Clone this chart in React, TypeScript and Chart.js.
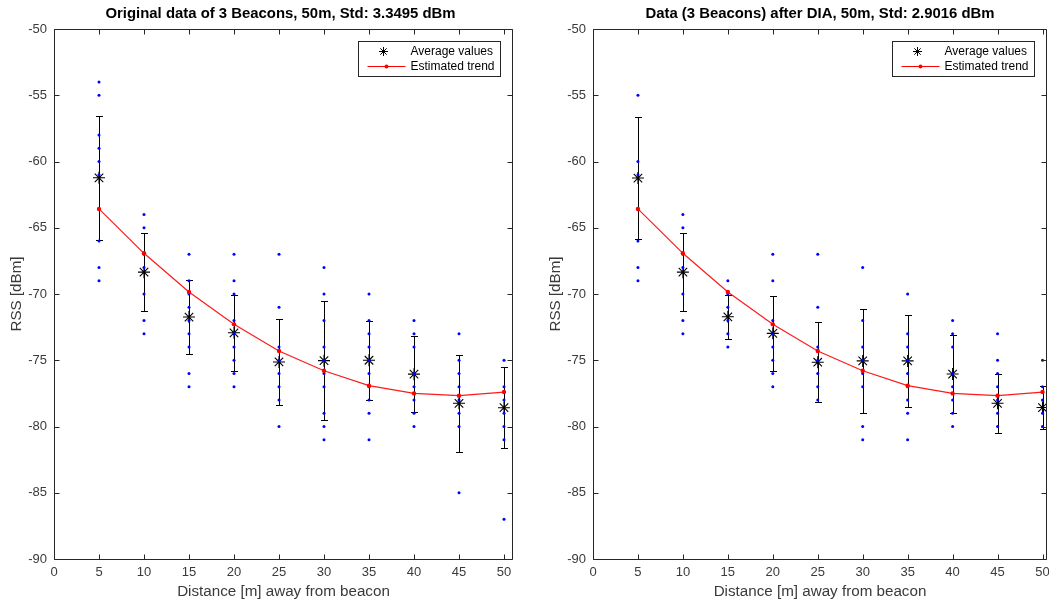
import React, { useEffect, useRef } from "react";
import { Chart, registerables } from "chart.js";

Chart.register(...registerables);

// Measurement distances (m) and axis ticks
const distances = [5, 10, 15, 20, 25, 30, 35, 40, 45, 50];
const xTickValues = [0, 5, 10, 15, 20, 25, 30, 35, 40, 45, 50];
const yTickValues = [-90, -85, -80, -75, -70, -65, -60, -55, -50];

// Fitted path-loss trend (dBm)
const trendRss = [-63.58, -66.93, -69.85, -72.29, -74.3, -75.79, -76.92, -77.5, -77.67, -77.4];

// Original data: mean, standard deviation and raw samples per distance
const originalMeans = [-61.23, -68.35, -71.74, -72.93, -75.13, -75.03, -75.0, -76.05, -78.25, -78.58];
const originalStd = [4.69, 2.92, 2.82, 2.88, 3.23, 4.47, 3.0, 2.88, 3.65, 3.06];
const originalSamples = [
  [-54, -55, -58, -59, -60, -61, -66, -68, -69],
  [-64, -65, -67, -68, -70, -72, -73],
  [-67, -69, -70, -71, -72, -73, -74, -76, -77],
  [-67, -69, -70, -72, -73, -74, -75, -76, -77],
  [-67, -71, -74, -75, -76, -77, -78, -80],
  [-68, -70, -72, -74, -75, -76, -77, -79, -80, -81],
  [-70, -72, -73, -74, -75, -76, -77, -78, -79, -81],
  [-72, -73, -74, -76, -77, -78, -79, -80],
  [-73, -75, -76, -77, -78, -79, -80, -85],
  [-75, -77, -78, -79, -80, -81, -87],
];

// Data after DIA filtering
const diaMeans = [-61.25, -68.35, -71.72, -72.97, -75.15, -75.05, -75.05, -76.04, -78.25, -78.57];
const diaStd = [4.58, 2.92, 1.66, 2.84, 3.03, 3.95, 3.5, 2.97, 2.22, 1.6];
const diaSamples = [
  [-55, -60, -61, -66, -68, -69],
  [-64, -65, -67, -68, -70, -72, -73],
  [-69, -70, -71, -72, -73, -74],
  [-67, -69, -72, -73, -74, -75, -76, -77],
  [-67, -71, -74, -75, -76, -77, -78],
  [-68, -72, -74, -75, -76, -77, -80, -81],
  [-70, -73, -74, -75, -76, -77, -78, -79, -81],
  [-72, -73, -74, -76, -77, -78, -79, -80],
  [-73, -75, -76, -77, -78, -79, -80],
  [-75, -77, -78, -79, -80],
];

const originalTitle = "Original data of 3 Beacons, 50m, Std: 3.3495 dBm";
const diaTitle = "Data (3 Beacons) after DIA, 50m, Std: 2.9016 dBm";
const xAxisLabel = "Distance [m] away from beacon";
const yAxisLabel = "RSS [dBm]";
const legendLabels = ["Average values", "Estimated trend"];

const FONT = "'Liberation Sans', Arial, Helvetica, sans-serif";
const AXIS_COLOR = "#262626";
const LABEL_COLOR = "#3a3a3a";

// Vertical mean ± std bars with caps
const errorBarPlugin = {
  id: "errorBars",
  beforeDatasetsDraw(chart: any, _args: any, opts: any) {
    const { ctx } = chart;
    const xs = chart.scales.x;
    const ys = chart.scales.y;
    ctx.save();
    ctx.strokeStyle = "#000";
    ctx.lineWidth = 1;
    opts.means.forEach((m: number, i: number) => {
      const x = Math.round(xs.getPixelForValue(distances[i])) + 0.5;
      const yTop = Math.round(ys.getPixelForValue(m + opts.std[i])) + 0.5;
      const yBot = Math.round(ys.getPixelForValue(m - opts.std[i])) + 0.5;
      ctx.beginPath();
      ctx.moveTo(x, yTop);
      ctx.lineTo(x, yBot);
      ctx.moveTo(x - 3.5, yTop);
      ctx.lineTo(x + 3.5, yTop);
      ctx.moveTo(x - 3.5, yBot);
      ctx.lineTo(x + 3.5, yBot);
      ctx.stroke();
    });
    ctx.restore();
  },
};

// Boxed axes with inward ticks on all four sides
const axesBoxPlugin = {
  id: "axesBox",
  afterDatasetsDraw(chart: any) {
    const { ctx, chartArea } = chart;
    const { left, right, top, bottom } = chartArea;
    const xs = chart.scales.x;
    const ys = chart.scales.y;
    const L = Math.round(left) + 0.5;
    const R = Math.round(right) - 0.5;
    const T = Math.round(top) + 0.5;
    const B = Math.round(bottom) + 0.5;
    const len = 5;
    ctx.save();
    ctx.strokeStyle = AXIS_COLOR;
    ctx.lineWidth = 1;
    ctx.beginPath();
    ctx.rect(L, T, R - L, B - T);
    xTickValues.forEach((v) => {
      const px = Math.round(xs.getPixelForValue(v)) + 0.5;
      ctx.moveTo(px, B);
      ctx.lineTo(px, B - len);
      ctx.moveTo(px, T);
      ctx.lineTo(px, T + len);
    });
    yTickValues.forEach((v) => {
      const py = Math.round(ys.getPixelForValue(v)) + 0.5;
      ctx.moveTo(L, py);
      ctx.lineTo(L + len, py);
      ctx.moveTo(R, py);
      ctx.lineTo(R - len, py);
    });
    ctx.stroke();
    ctx.restore();
  },
};

// Bold panel heading above the plot area
const panelTitlePlugin = {
  id: "panelTitle",
  afterDraw(chart: any, _args: any, opts: any) {
    const { ctx, chartArea } = chart;
    ctx.save();
    ctx.fillStyle = "#000";
    ctx.font = `bold 14.9px ${FONT}`;
    ctx.textAlign = "center";
    ctx.textBaseline = "middle";
    ctx.fillText(opts.text, (chartArea.left + chartArea.right) / 2 + (opts.shift || 0), 14);
    ctx.restore();
  },
};

// Legend box in the upper-right corner
const boxLegendPlugin = {
  id: "boxLegend",
  afterDraw(chart: any) {
    const { ctx, chartArea } = chart;
    const w = 142;
    const h = 35;
    const bx = Math.round(chartArea.right - 13 - w) + 0.5;
    const by = Math.round(chartArea.top + 12) + 0.5;
    ctx.save();
    ctx.fillStyle = "#fff";
    ctx.fillRect(bx, by, w, h);
    ctx.strokeStyle = AXIS_COLOR;
    ctx.lineWidth = 1;
    ctx.strokeRect(bx, by, w, h);

    // star marker
    const sx = bx + 25;
    const sy = by + 10;
    const r = 4.5;
    const d = r * Math.SQRT1_2;
    ctx.strokeStyle = "#000";
    ctx.beginPath();
    ctx.moveTo(sx - r, sy);
    ctx.lineTo(sx + r, sy);
    ctx.moveTo(sx, sy - r);
    ctx.lineTo(sx, sy + r);
    ctx.moveTo(sx - d, sy - d);
    ctx.lineTo(sx + d, sy + d);
    ctx.moveTo(sx - d, sy + d);
    ctx.lineTo(sx + d, sy - d);
    ctx.stroke();

    // trend line sample
    const ly = by + 25;
    ctx.strokeStyle = "#ff0000";
    ctx.beginPath();
    ctx.moveTo(bx + 9, ly);
    ctx.lineTo(bx + 47, ly);
    ctx.stroke();
    ctx.fillStyle = "#ff0000";
    ctx.beginPath();
    ctx.arc(bx + 28, ly, 2, 0, Math.PI * 2);
    ctx.fill();

    ctx.fillStyle = "#000";
    ctx.font = `12px ${FONT}`;
    ctx.textAlign = "left";
    ctx.textBaseline = "middle";
    ctx.fillText(legendLabels[0], bx + 52, sy);
    ctx.fillText(legendLabels[1], bx + 52, ly);
    ctx.restore();
  },
};

type PanelProps = {
  title: string;
  titleShift: number;
  means: number[];
  std: number[];
  samples: number[][];
  xMax: number;
  width: number;
  padLeft: number;
  padRight: number;
  left: number;
};

function BeaconPanel(props: PanelProps) {
  const ref = useRef<HTMLCanvasElement | null>(null);

  useEffect(() => {
    if (!ref.current) return;
    const samplePoints = distances.flatMap((d, i) => props.samples[i].map((v) => ({ x: d, y: v })));
    const chart = new Chart(ref.current, {
      type: "scatter",
      data: {
        datasets: [
          {
            label: legendLabels[1],
            data: distances.map((d, i) => ({ x: d, y: trendRss[i] })),
            showLine: true,
            borderColor: "#ff1a1a",
            borderWidth: 1.2,
            backgroundColor: "#ff0000",
            pointRadius: 2.2,
            pointBorderWidth: 0,
            pointBackgroundColor: "#ff0000",
            tension: 0,
            order: 0,
          },
          {
            label: "samples",
            data: samplePoints,
            pointRadius: 1.5,
            pointBorderWidth: 0,
            pointBackgroundColor: "#0000ff",
            backgroundColor: "#0000ff",
            order: 1,
          },
          {
            label: legendLabels[0],
            data: distances.map((d, i) => ({ x: d, y: props.means[i] })),
            pointStyle: "star",
            pointRadius: 6,
            pointBorderWidth: 1.1,
            pointBorderColor: "#000",
            borderColor: "#000",
            order: 2,
          },
        ],
      } as any,
      options: {
        responsive: false,
        animation: false,
        events: [],
        layout: { padding: { left: props.padLeft, right: props.padRight, top: 29, bottom: 0 } },
        plugins: {
          legend: { display: false },
          tooltip: { enabled: false },
          title: { display: false },
          errorBars: { means: props.means, std: props.std },
          panelTitle: { text: props.title, shift: props.titleShift },
        } as any,
        scales: {
          x: {
            type: "linear",
            min: 0,
            max: props.xMax,
            afterBuildTicks: (s: any) => {
              s.ticks = xTickValues.map((v) => ({ value: v }));
            },
            afterFit: (s: any) => {
              s.height = 49;
            },
            grid: { display: false, drawTicks: false },
            border: { display: false },
            ticks: {
              autoSkip: false,
              maxRotation: 0,
              padding: 6,
              color: LABEL_COLOR,
              font: { family: FONT, size: 13 },
            },
            title: {
              display: true,
              text: xAxisLabel,
              color: LABEL_COLOR,
              font: { family: FONT, size: 15.2 },
              padding: { top: 0, bottom: 7 },
            },
          },
          y: {
            type: "linear",
            min: -90,
            max: -50,
            afterBuildTicks: (s: any) => {
              s.ticks = yTickValues.map((v) => ({ value: v }));
            },
            afterFit: (s: any) => {
              s.width = 54;
            },
            grid: { display: false, drawTicks: false },
            border: { display: false },
            ticks: {
              padding: 7,
              color: LABEL_COLOR,
              font: { family: FONT, size: 13 },
            },
            title: {
              display: true,
              text: yAxisLabel,
              color: LABEL_COLOR,
              font: { family: FONT, size: 15.2 },
              padding: { top: 8, bottom: 0 },
            },
          },
        },
      } as any,
      plugins: [errorBarPlugin, axesBoxPlugin, panelTitlePlugin, boxLegendPlugin],
    });
    return () => chart.destroy();
  }, []);

  return (
    <canvas
      ref={ref}
      width={props.width}
      height={608}
      style={{ position: "absolute", left: props.left, top: 0, width: props.width, height: 608 }}
    />
  );
}

export default function App() {
  return (
    <div
      style={{
        position: "absolute",
        left: 0,
        top: 0,
        width: 1049,
        height: 608,
        overflow: "hidden",
        background: "#fff",
      }}
    >
      <BeaconPanel
        title={originalTitle}
        titleShift={-3}
        means={originalMeans}
        std={originalStd}
        samples={originalSamples}
        xMax={51}
        width={525}
        padLeft={0}
        padRight={12}
        left={0}
      />
      <BeaconPanel
        title={diaTitle}
        titleShift={0}
        means={diaMeans}
        std={diaStd}
        samples={diaSamples}
        xMax={50.5}
        width={540}
        padLeft={14}
        padRight={18}
        left={525}
      />
    </div>
  );
}
